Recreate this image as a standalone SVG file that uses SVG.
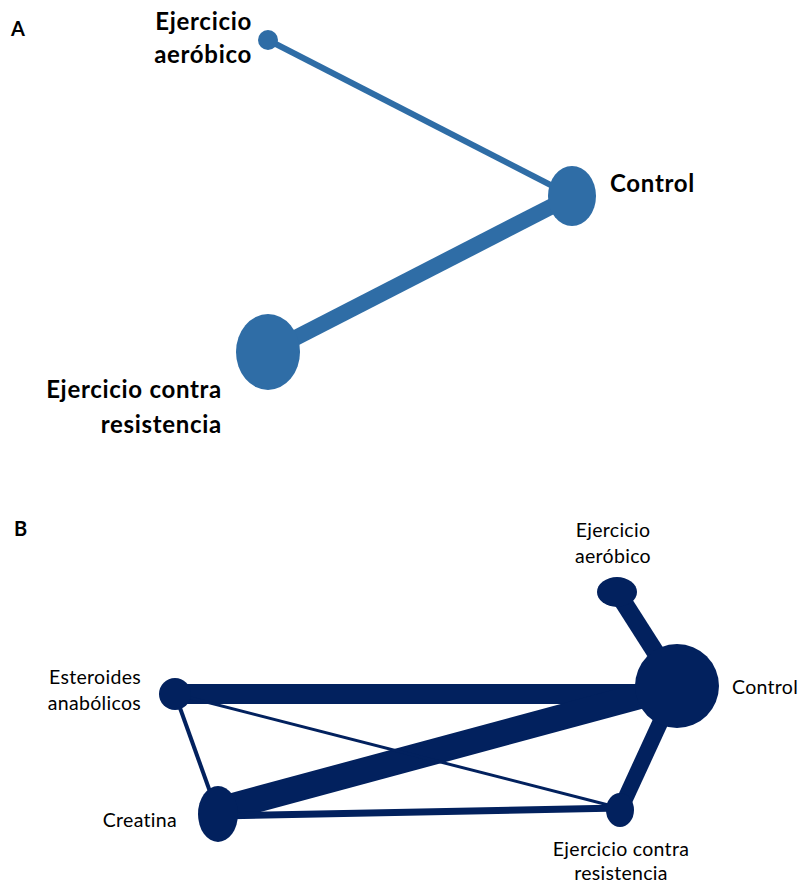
<svg xmlns="http://www.w3.org/2000/svg" width="802" height="883" viewBox="0 0 802 883">
  <style>
    .lblA { font-family: Lato, "Open Sans", "Liberation Sans", sans-serif; font-weight: bold; font-size: 24px; letter-spacing: 0.7px; fill: #000; }
    .lblB { font-family: Lato, "Open Sans", "Liberation Sans", sans-serif; font-size: 19.5px; letter-spacing: 0.3px; fill: #000; }
    .panel { font-family: Lato, "Liberation Sans", sans-serif; font-weight: bold; font-size: 20px; fill: #000; }
    .eA { stroke: #2F6DA6; fill: none; }
    .nA { fill: #2F6DA6; }
    .eB { stroke: #02215E; fill: none; }
    .nB { fill: #02215E; }
  </style>
  <rect width="802" height="883" fill="#fff"/>

  <!-- Panel A -->
  <text class="panel" x="11" y="36">A</text>
  <g id="edgesA">
    <line class="eA" x1="268" y1="40" x2="572" y2="196" stroke-width="6"/>
    <line class="eA" x1="268" y1="352" x2="572" y2="196" stroke-width="16"/>
  </g>
  <g id="a-aerobico">
    <circle class="nA" cx="268" cy="40" r="10"/>
    <text class="lblA" x="252" y="30" text-anchor="end">Ejercicio</text>
    <text class="lblA" x="252" y="63" text-anchor="end">aeróbico</text>
  </g>
  <g id="a-control">
    <ellipse class="nA" cx="572" cy="196" rx="24" ry="30"/>
    <text class="lblA" x="610" y="192">Control</text>
  </g>
  <g id="a-resistencia">
    <ellipse class="nA" cx="268" cy="352" rx="32" ry="38"/>
    <text class="lblA" x="222" y="398" text-anchor="end">Ejercicio contra</text>
    <text class="lblA" x="222" y="433" text-anchor="end">resistencia</text>
  </g>

  <!-- Panel B -->
  <text class="panel" x="14" y="536">B</text>
  <g id="edgesB">
    <line class="eB" x1="617" y1="592" x2="677" y2="686" stroke-width="18"/>
    <line class="eB" x1="175" y1="694" x2="677" y2="694" stroke-width="20"/>
    <line class="eB" x1="218" y1="810" x2="677" y2="686" stroke-width="26"/>
    <line class="eB" x1="677" y1="686" x2="620" y2="810" stroke-width="16"/>
    <line class="eB" x1="175" y1="694" x2="218" y2="814" stroke-width="4"/>
    <line class="eB" x1="175" y1="694" x2="620" y2="808" stroke-width="3"/>
    <line class="eB" x1="218" y1="816" x2="620" y2="808" stroke-width="7"/>
  </g>
  <g id="b-aerobico">
    <ellipse class="nB" cx="617" cy="592" rx="20" ry="15"/>
    <text class="lblB" x="613" y="537" text-anchor="middle">Ejercicio</text>
    <text class="lblB" x="613" y="563" text-anchor="middle">aeróbico</text>
  </g>
  <g id="b-control">
    <circle class="nB" cx="677" cy="686" r="42"/>
    <text class="lblB" x="732" y="694">Control</text>
  </g>
  <g id="b-esteroides">
    <circle class="nB" cx="175" cy="694" r="16"/>
    <text class="lblB" x="141" y="684" text-anchor="end">Esteroides</text>
    <text class="lblB" x="141" y="710" text-anchor="end">anabólicos</text>
  </g>
  <g id="b-creatina">
    <ellipse class="nB" cx="218" cy="814" rx="20" ry="28"/>
    <text class="lblB" x="177" y="827" text-anchor="end">Creatina</text>
  </g>
  <g id="b-resistencia">
    <ellipse class="nB" cx="620" cy="810" rx="14" ry="17"/>
    <text class="lblB" x="621" y="856" text-anchor="middle">Ejercicio contra</text>
    <text class="lblB" x="621" y="880" text-anchor="middle">resistencia</text>
  </g>
</svg>
